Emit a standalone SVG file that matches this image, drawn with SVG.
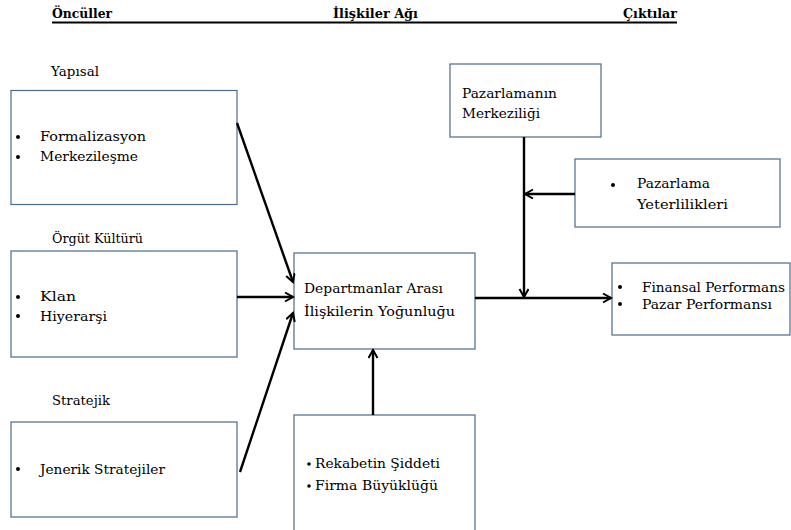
<svg xmlns="http://www.w3.org/2000/svg" width="791" height="530" viewBox="0 0 791 530">
<style>
text{font-family:'DejaVu Serif','Liberation Serif',serif;font-size:12.5px;fill:#000}
.h{font-weight:bold;font-size:12.5px}
.box{fill:#fff;stroke:#4a6a8e;stroke-width:1.2}
.b{fill:#000}
.c{stroke:#000;stroke-width:2.4;fill:none}
</style>
<defs>
<marker id="ah" markerUnits="userSpaceOnUse" markerWidth="12" markerHeight="12" refX="9" refY="5" orient="auto">
<path d="M1,0.5 L9,5 L1,9.5" fill="none" stroke="#000" stroke-width="2"/>
</marker>
</defs>
<rect width="791" height="530" fill="#fff"/>
<g id="header">
<text class="h" x="52" y="18" textLength="60" lengthAdjust="spacingAndGlyphs">Öncüller</text>
<text class="h" x="333" y="18" textLength="85" lengthAdjust="spacingAndGlyphs">İlişkiler Ağı</text>
<text class="h" x="623" y="18" textLength="54" lengthAdjust="spacingAndGlyphs">Çıktılar</text>
<line x1="52" y1="22.5" x2="677" y2="22.5" stroke="#000" stroke-width="2"/>
</g>
<g id="yapisal">
<text x="51" y="76" textLength="48" lengthAdjust="spacingAndGlyphs">Yapısal</text>
<rect class="box" x="11" y="90.5" width="226" height="114"/>
<circle class="b" cx="18" cy="137" r="2"/>
<circle class="b" cx="18" cy="157" r="2"/>
<text x="40" y="141" textLength="106" lengthAdjust="spacingAndGlyphs">Formalizasyon</text>
<text x="40" y="161" textLength="98" lengthAdjust="spacingAndGlyphs">Merkezileşme</text>
</g>
<g id="orgut">
<text x="52" y="243" textLength="91" lengthAdjust="spacingAndGlyphs">Örgüt Kültürü</text>
<rect class="box" x="11" y="251" width="226" height="106"/>
<circle class="b" cx="18" cy="297" r="2"/>
<circle class="b" cx="18" cy="316" r="2"/>
<text x="40" y="301" textLength="36" lengthAdjust="spacingAndGlyphs">Klan</text>
<text x="40" y="321" textLength="67" lengthAdjust="spacingAndGlyphs">Hiyerarşi</text>
</g>
<g id="stratejik">
<text x="52" y="405" textLength="58" lengthAdjust="spacingAndGlyphs">Stratejik</text>
<rect class="box" x="11" y="422" width="226" height="95"/>
<circle class="b" cx="18" cy="469" r="2"/>
<text x="40" y="474" textLength="125" lengthAdjust="spacingAndGlyphs">Jenerik Stratejiler</text>
</g>
<g id="departmanlar">
<rect class="box" x="294" y="253" width="181" height="96"/>
<text x="304" y="293" textLength="139" lengthAdjust="spacingAndGlyphs">Departmanlar Arası</text>
<text x="304" y="316" textLength="151" lengthAdjust="spacingAndGlyphs">İlişkilerin Yoğunluğu</text>
</g>
<g id="rekabet">
<rect class="box" x="294" y="415" width="181" height="125"/>
<circle class="b" cx="309" cy="464" r="1.8"/>
<circle class="b" cx="309" cy="486" r="1.8"/>
<text x="315" y="468" textLength="125" lengthAdjust="spacingAndGlyphs">Rekabetin Şiddeti</text>
<text x="315" y="490" textLength="123" lengthAdjust="spacingAndGlyphs">Firma Büyüklüğü</text>
</g>
<g id="pazarlama-merkeziligi">
<rect class="box" x="450" y="64" width="151" height="73"/>
<text x="462" y="98" textLength="95" lengthAdjust="spacingAndGlyphs">Pazarlamanın</text>
<text x="462" y="118" textLength="78" lengthAdjust="spacingAndGlyphs">Merkeziliği</text>
</g>
<g id="pazarlama-yeterlilikleri">
<rect class="box" x="575" y="159" width="205" height="68"/>
<circle class="b" cx="613" cy="185" r="2"/>
<text x="637" y="188" textLength="73" lengthAdjust="spacingAndGlyphs">Pazarlama</text>
<text x="637" y="209" textLength="91" lengthAdjust="spacingAndGlyphs">Yeterlilikleri</text>
</g>
<g id="performans">
<rect class="box" x="612" y="263" width="178" height="72"/>
<circle class="b" cx="620" cy="287" r="2"/>
<circle class="b" cx="620" cy="304" r="2"/>
<text x="642" y="292" textLength="143" lengthAdjust="spacingAndGlyphs">Finansal Performans</text>
<text x="642" y="309" textLength="130" lengthAdjust="spacingAndGlyphs">Pazar Performansı</text>
</g>
<g id="connectors">
<line class="c" x1="237" y1="123" x2="293" y2="282" marker-end="url(#ah)"/>
<line class="c" x1="237" y1="297" x2="293" y2="297" marker-end="url(#ah)"/>
<line class="c" x1="240" y1="472" x2="293" y2="313" marker-end="url(#ah)"/>
<line class="c" x1="373" y1="415" x2="373" y2="350" marker-end="url(#ah)"/>
<line class="c" x1="524" y1="137" x2="524" y2="297" marker-end="url(#ah)"/>
<line class="c" x1="575" y1="194" x2="525" y2="194" marker-end="url(#ah)"/>
<line class="c" x1="475" y1="298" x2="611" y2="298" marker-end="url(#ah)"/>
</g>
</svg>
